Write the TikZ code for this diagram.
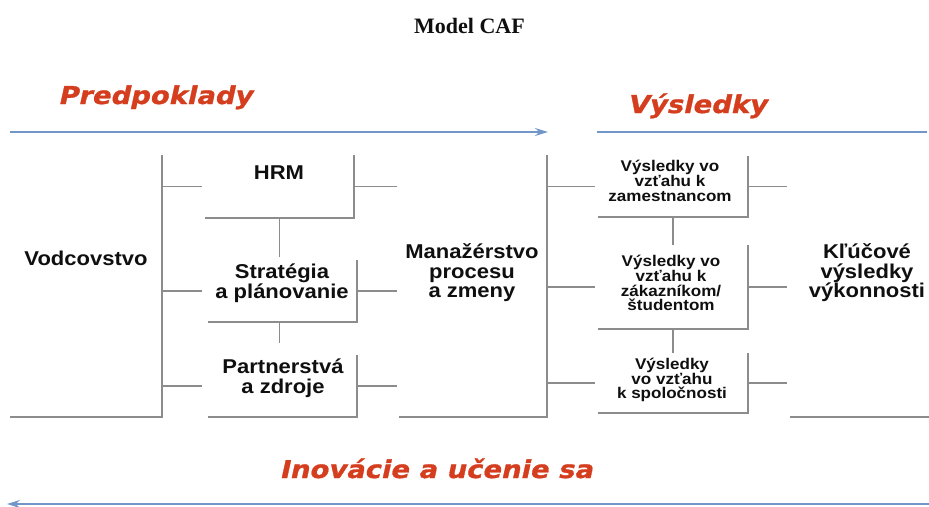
\documentclass[tikz,border=0pt]{standalone}
\usepackage{fontspec}
\usetikzlibrary{arrows.meta}
\setmainfont{Liberation Serif}
\newfontfamily\labfont{Liberation Sans}[FakeStretch=1.1]
\newfontfamily\redfont{DejaVu Sans Bold}[FakeStretch=1.12,FakeBold=1.2]
\definecolor{redt}{RGB}{212,62,30}
\definecolor{blueL}{RGB}{115,150,200}
\definecolor{grayL}{RGB}{140,140,140}
\definecolor{txt}{RGB}{15,15,15}
\begin{document}
\begin{tikzpicture}[x=1pt,y=-1pt,
  box/.style={rectangle,inner sep=0pt,outer sep=0pt},
  frame/.style={draw=grayL,line width=1.6pt},
  blueline/.style={draw=blueL,line width=1.8pt},
  biglab/.style={text=txt,align=center,inner sep=0pt,font=\labfont\bfseries\fontsize{20}{19.5}\selectfont},
  smalllab/.style={text=txt,align=center,inner sep=0pt,font=\labfont\bfseries\fontsize{15.5}{14.8}\selectfont},
  redlab/.style={text=redt,anchor=base,inner sep=0pt,xslant=0.22,transform shape,font=\redfont\fontsize{24.5}{24.5}\selectfont}
]
\useasboundingbox (0,0) rectangle (929,506);

% title
\node[anchor=base,inner sep=0pt,font=\bfseries\fontsize{22}{22}\selectfont,text=txt] (title) at (469.5,33) {Model CAF};

% red headings
\node[redlab] (pred) at (155,104) {Predpoklady};
\node[redlab] (vys) at (697,113) {Výsledky};
\node[redlab,font=\redfont\fontsize{24.5}{24.5}\selectfont] (inov) at (436,478) {Inovácie a učenie sa};

% blue arrows
\coordinate (tl) at (10,132);
\coordinate (tr) at (548,132);
\coordinate (rl) at (597,132);
\coordinate (rr) at (927,132);
\coordinate (bl) at (7,504);
\coordinate (br) at (929,504);
\draw[blueline,-{Stealth[length=13pt,width=8pt]}] (tl) -- (tr);
\draw[blueline] (rl) -- (rr);
\draw[blueline,-{Stealth[length=13pt,width=8pt]}] (br) -- (bl);

% boxes (invisible shapes)
\node[box,minimum width=152,minimum height=262] (lead) at (86,286) {};
\node[box,minimum width=149,minimum height=63] (hrm) at (279.5,186.5) {};
\node[box,minimum width=149,minimum height=62] (strat) at (282.5,291) {};
\node[box,minimum width=149,minimum height=62] (partner) at (282.5,386) {};
\node[box,minimum width=148,minimum height=262] (proc) at (473,286) {};
\node[box,minimum width=150,minimum height=61] (res1) at (673,186.5) {};
\node[box,minimum width=150,minimum height=84] (res2) at (673,287) {};
\node[box,minimum width=150,minimum height=60] (res3) at (673,383) {};
\node[box,minimum width=139,minimum height=262] (key) at (859.5,286) {};

% texts
\node[biglab] (leadT) at (86,258) {Vodcovstvo};
\node[biglab] (hrmT) at (279,173) {HRM};
\node[biglab] (stratT) at (282,283) {Stratégia\\a plánovanie};
\node[biglab] (partnerT) at (283,378) {Partnerstvá\\a zdroje};
\node[biglab] (procT) at (472,273) {Manažérstvo\\procesu\\a zmeny};
\node[smalllab] (res1T) at (670,181) {Výsledky vo\\vzťahu k\\zamestnancom};
\node[smalllab] (res2T) at (671,283) {Výsledky vo\\vzťahu k\\zákazníkom/\\študentom};
\node[smalllab] (res3T) at (672,380) {Výsledky\\vo vzťahu\\k spoločnosti};
\node[biglab] (keyT) at (867,273) {Kľúčové\\výsledky\\výkonnosti};

% box edges (right + bottom)
\draw[frame] (lead.north east) -- (lead.south east) -- (lead.south west);
\draw[frame] (hrm.north east) -- (hrm.south east) -- (hrm.south west);
\draw[frame] (strat.north east) -- (strat.south east) -- (strat.south west);
\draw[frame] (partner.north east) -- (partner.south east) -- (partner.south west);
\draw[frame] (proc.north east) -- (proc.south east) -- (proc.south west);
\draw[frame] (res1.north east) -- (res1.south east) -- (res1.south west);
\draw[frame] (res2.north east) -- (res2.south east) -- (res2.south west);
\draw[frame] (res3.north east) -- (res3.south east) -- (res3.south west);
\draw[frame] (key.south west) -- (key.south east);

% stubs left
\draw[frame,shorten >=3pt] (lead.east |- hrm.west) -- (hrm.west);
\draw[frame,shorten >=6pt] (lead.east |- strat.west) -- (strat.west);
\draw[frame,shorten >=6pt] (lead.east |- partner.west) -- (partner.west);
% stubs to process
\draw[frame,shorten >=2pt] (hrm.east) -- (proc.west |- hrm.east);
\draw[frame,shorten >=2pt] (strat.east) -- (proc.west |- strat.east);
\draw[frame,shorten >=2pt] (partner.east) -- (proc.west |- partner.east);
% stubs to results
\draw[frame,shorten >=3pt] (proc.east |- res1.west) -- (res1.west);
\draw[frame,shorten >=3pt] (proc.east |- res2.west) -- (res2.west);
\draw[frame,shorten >=3pt] (proc.east |- res3.west) -- (res3.west);
% stubs to key
\draw[frame,shorten >=3pt] (res1.east) -- (key.west |- res1.east);
\draw[frame,shorten >=3pt] (res2.east) -- (key.west |- res2.east);
\draw[frame,shorten >=3pt] (res3.east) -- (key.west |- res3.east);

% vertical connectors
\draw[frame,shorten >=3pt] (hrm.south) -- (hrm.south |- strat.north);
\draw[frame,shorten >=12pt] (hrm.south |- strat.south) -- (hrm.south |- partner.north);
\draw[frame] (res1.south) -- (res1.south |- res2.north);
\draw[frame] (res2.south) -- (res2.south |- res3.north);
\end{tikzpicture}
\end{document}
